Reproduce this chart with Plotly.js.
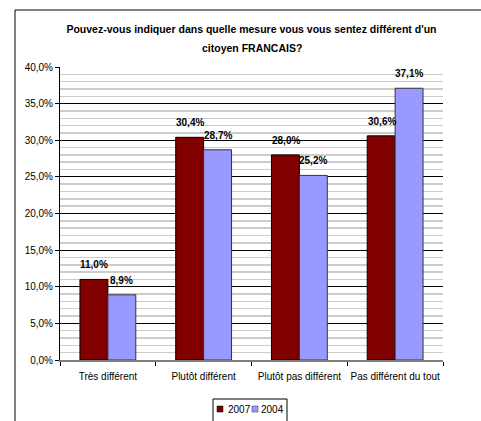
<!DOCTYPE html>
<html>
<head>
<meta charset="utf-8">
<script src="https://cdn.plot.ly/plotly-3.0.1.min.js"></script>
<style>html,body{margin:0;padding:0;background:#fff;}#chart{width:481px;height:421px;}</style>
</head>
<body>
<div id="chart"></div>
<script>
var categories = ["Très différent", "Plutôt différent", "Plutôt pas différent", "Pas différent du tout"];
var values2007 = [0.110, 0.304, 0.280, 0.306];
var values2004 = [0.089, 0.287, 0.252, 0.371];
var seriesNames = ["2007", "2004"];
var seriesColors = ["#800000", "#9999FF"];
var titleLines = ["Pouvez-vous indiquer dans quelle mesure vous vous sentez différent d'un", "citoyen FRANCAIS?"];

var fontFam = "Arial, 'Liberation Sans', sans-serif";

function fmtPct(v) { return (v * 100).toFixed(1).replace(".", ",") + "%"; }

var traces = [
  {
    type: "bar", name: seriesNames[0], x: categories, y: values2007,
    marker: {color: seriesColors[0], line: {color: "#000000", width: 1}},
    textposition: "none"
  },
  {
    type: "bar", name: seriesNames[1], x: categories, y: values2004,
    marker: {color: seriesColors[1], line: {color: "#333333", width: 1}},
    textposition: "none"
  }
];

var L = 60, R = 443, T = 67, B = 360, W = 481, H = 421;
var pw = R - L, ph = B - T;
function px(x) { return (x - L) / pw; }
function py(y) { return (B - y) / ph; }

var labelAnns = [];
[values2007, values2004].forEach(function (vals, s) {
  vals.forEach(function (v, i) {
    labelAnns.push({
      x: categories[i], y: v, xref: "x", yref: "y",
      text: "<b>" + fmtPct(v) + "</b>", showarrow: false,
      xanchor: "center", yanchor: "bottom", xshift: s === 0 ? -13.5 : 14, yshift: 7,
      font: {family: fontFam, size: 10, color: "#000"}
    });
  });
});

var layout = {
  width: W, height: H,
  margin: {l: L, r: W - R, t: T, b: H - B, pad: 0},
  paper_bgcolor: "#ffffff", plot_bgcolor: "#ffffff",
  separators: ", ",
  font: {family: fontFam, size: 10, color: "#000"},
  title: {
    text: "<b>" + titleLines[0] + "</b>",
    font: {family: fontFam, size: 10.5, color: "#000"},
    x: 0.5, xref: "paper", xanchor: "center",
    y: 1 - 29 / H, yref: "container", yanchor: "middle",
    automargin: false
  },
  barmode: "group", bargap: 0.417, bargroupgap: 0,
  showlegend: false,
  xaxis: {
    type: "category", showgrid: false, zeroline: false, automargin: false,
    showline: true, linecolor: "#808080", linewidth: 2,
    ticks: "outside", tickson: "boundaries", ticklen: 4, tickcolor: "#000",
    tickangle: 0, ticklabelstandoff: 6,
    tickfont: {family: fontFam, size: 10, color: "#000"}
  },
  yaxis: {
    range: [0, 0.4], dtick: 0.05, tickformat: ".1%", automargin: false,
    showgrid: true, gridcolor: "#000000", gridwidth: 1,
    zeroline: false, showline: true, linecolor: "#000", linewidth: 1,
    ticks: "outside", ticklen: 4, tickcolor: "#000",
    tickfont: {family: fontFam, size: 10, color: "#000"},
    minor: {dtick: 0.01, showgrid: true, gridcolor: "#cccccc", gridwidth: 1.5, ticks: ""}
  },
  annotations: labelAnns.concat([
    {text: "<b>" + titleLines[1] + "</b>", xref: "paper", yref: "paper", x: 0.5, y: py(48),
     xanchor: "center", yanchor: "middle", showarrow: false,
     font: {family: fontFam, size: 10.5, color: "#000"}},
    {text: seriesNames[0], xref: "paper", yref: "paper", x: px(226), y: py(409),
     xanchor: "left", yanchor: "middle", showarrow: false,
     font: {family: fontFam, size: 10, color: "#000"}},
    {text: seriesNames[1], xref: "paper", yref: "paper", x: px(259), y: py(409),
     xanchor: "left", yanchor: "middle", showarrow: false,
     font: {family: fontFam, size: 10, color: "#000"}}
  ]),
  shapes: [
    {type: "line", xref: "paper", yref: "paper", x0: px(15), x1: px(15), y0: py(H + 2), y1: py(10), line: {color: "#000", width: 1}},
    {type: "line", xref: "paper", yref: "paper", x0: px(15), x1: px(W + 2), y0: py(10), y1: py(10), line: {color: "#000", width: 1}},
    {type: "rect", xref: "paper", yref: "paper", x0: px(213), x1: px(287), y0: py(H + 2), y1: py(399), line: {color: "#000", width: 1}, fillcolor: "#fff"},
    {type: "rect", xref: "paper", yref: "paper", x0: px(217), x1: px(223), y0: py(412), y1: py(406), line: {color: "#000", width: 0.5}, fillcolor: seriesColors[0]},
    {type: "rect", xref: "paper", yref: "paper", x0: px(252), x1: px(258), y0: py(412), y1: py(406), line: {color: "#333", width: 0.5}, fillcolor: seriesColors[1]}
  ]
};

Plotly.newPlot("chart", traces, layout, {displayModeBar: false, staticPlot: true});
</script>
</body>
</html>
